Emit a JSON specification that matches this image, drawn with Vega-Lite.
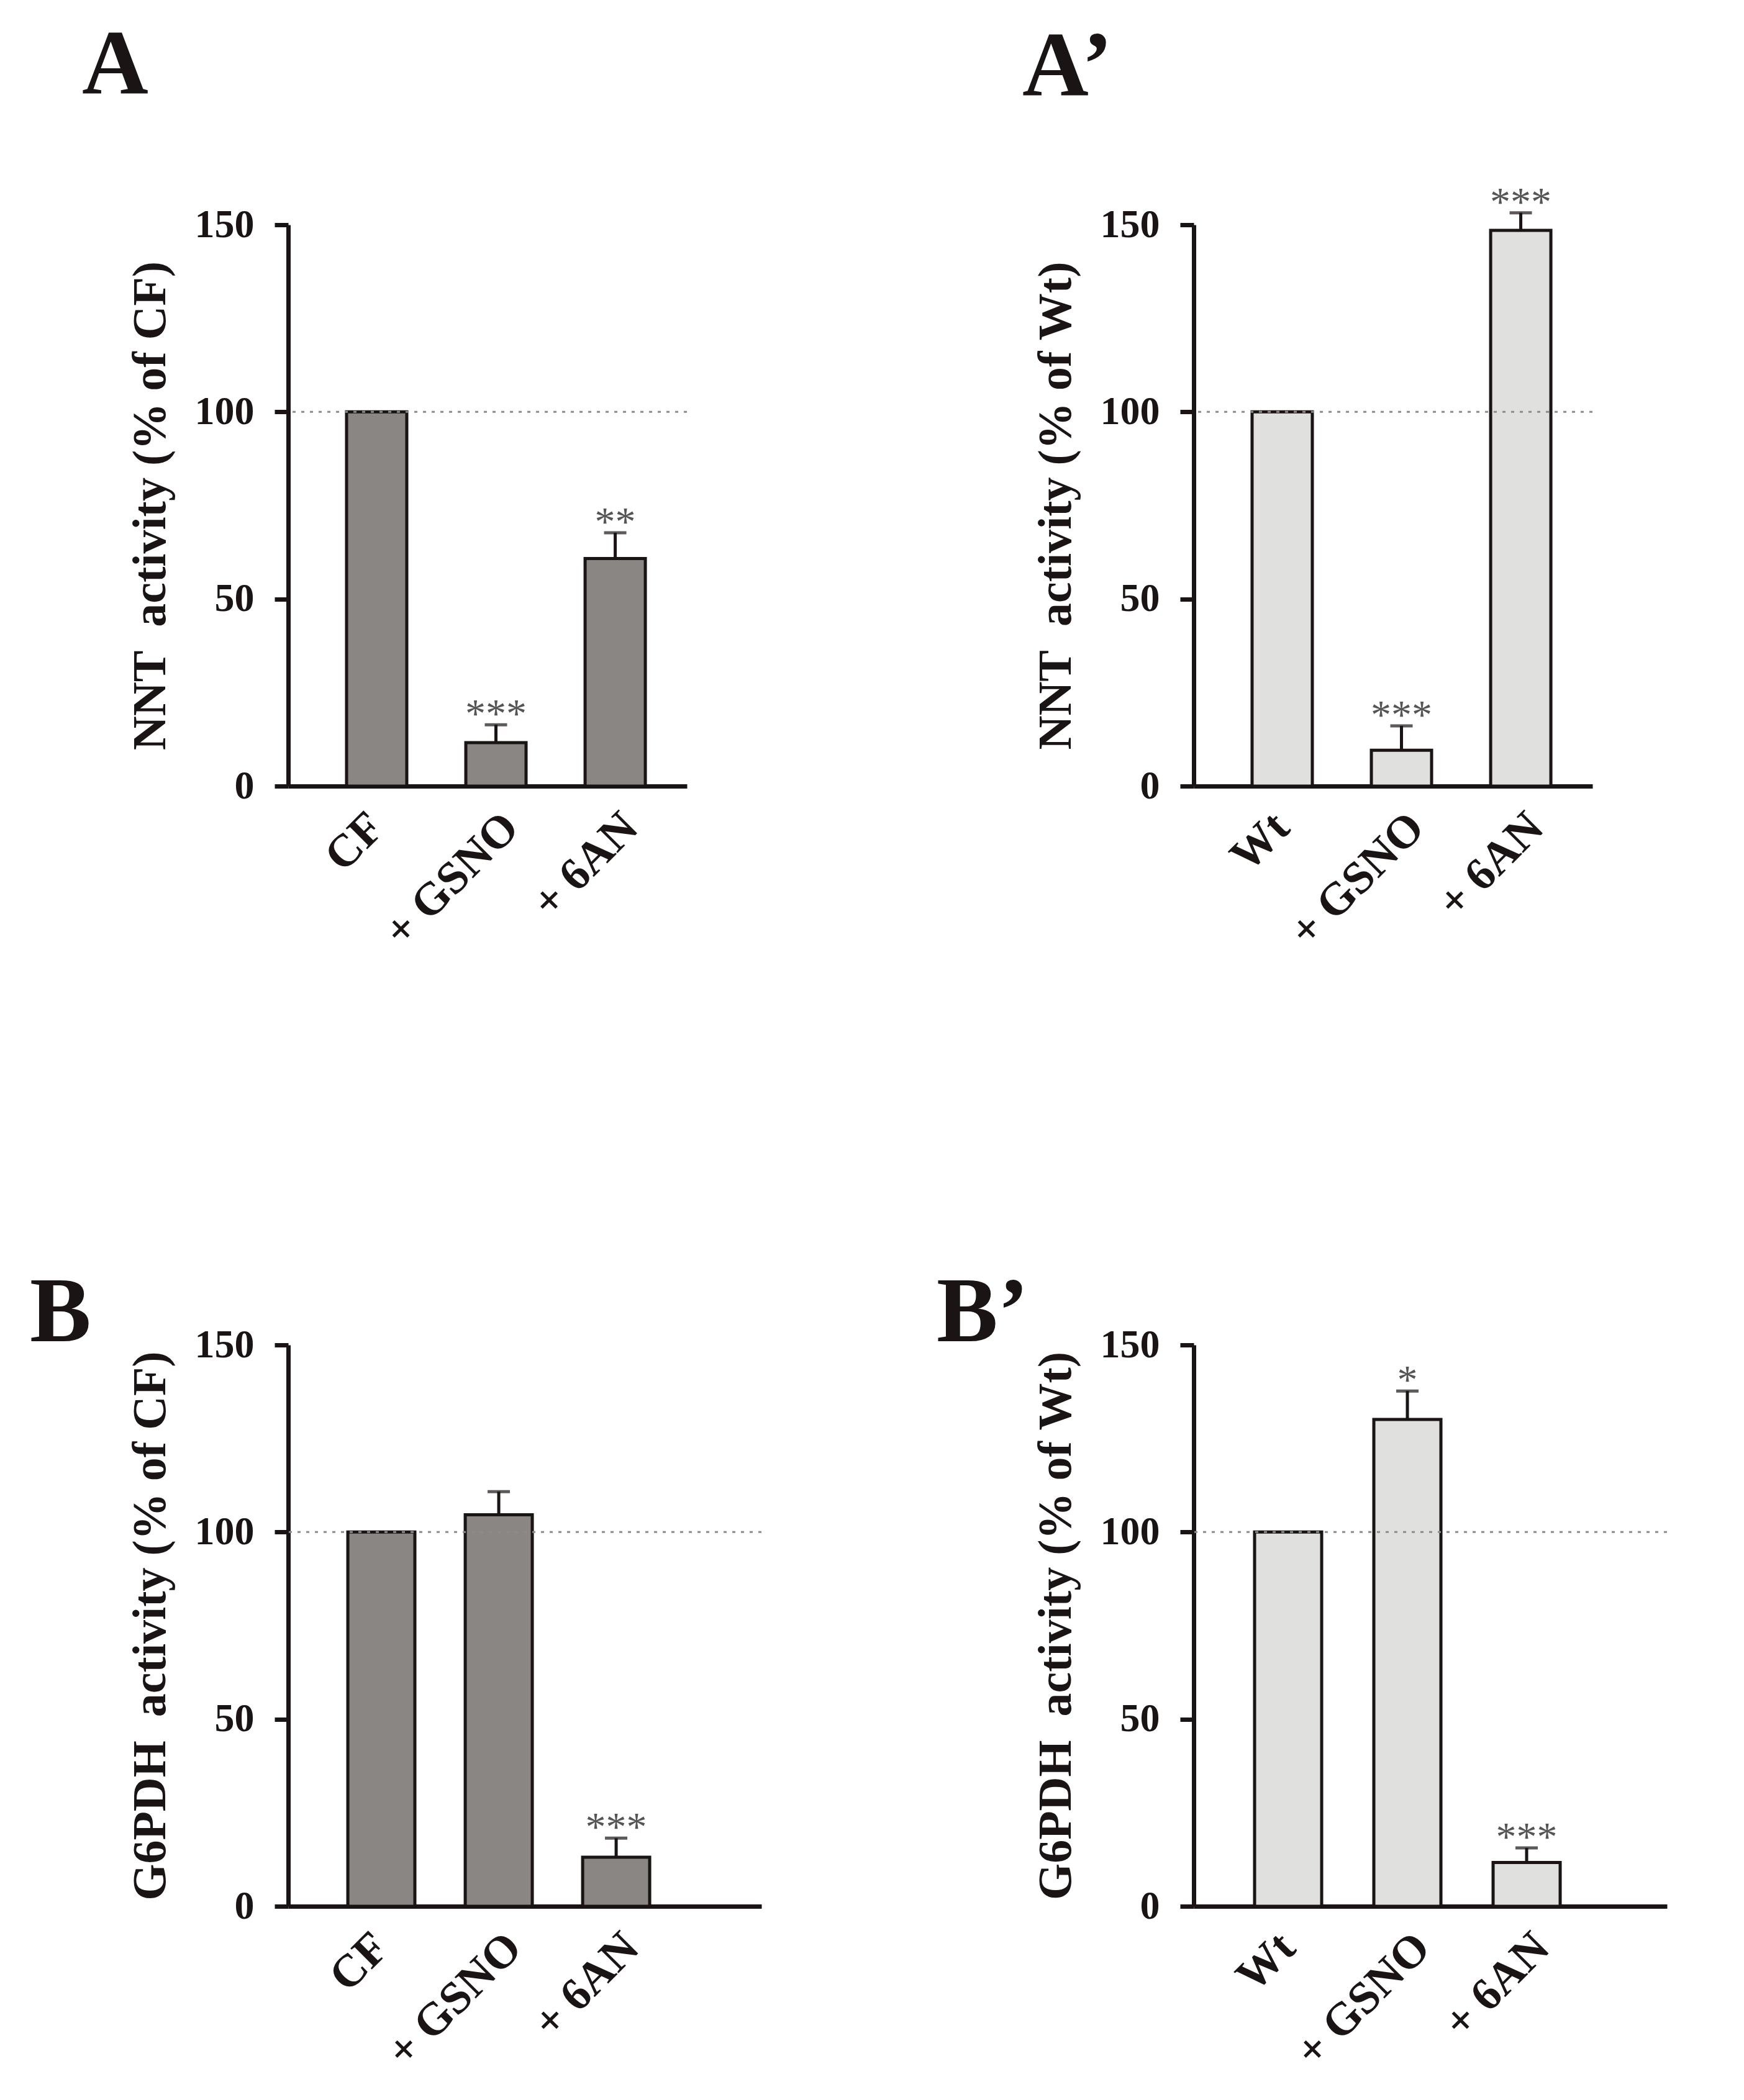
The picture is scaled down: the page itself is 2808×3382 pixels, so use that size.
{
  "$schema": "https://vega.github.io/schema/vega-lite/v6.json",
  "padding": {"left": 48, "top": 32, "right": 0, "bottom": 0},
  "background": "white",
  "config": {"view": {"stroke": null}, "font": "Liberation Serif"},
  "data": {"values": [
    {"panel": "A", "group": "CF", "value": 100, "upper": null, "sig": ""},
    {"panel": "A", "group": "+ GSNO", "value": 11.6, "upper": 16.4, "sig": "***"},
    {"panel": "A", "group": "+ 6AN", "value": 60.8, "upper": 67.7, "sig": "**"},
    {"panel": "A2", "group": "Wt", "value": 100, "upper": null, "sig": ""},
    {"panel": "A2", "group": "+ GSNO", "value": 9.6, "upper": 16.1, "sig": "***"},
    {"panel": "A2", "group": "+ 6AN", "value": 148.5, "upper": 153.2, "sig": "***"},
    {"panel": "B", "group": "CF", "value": 100, "upper": null, "sig": ""},
    {"panel": "B", "group": "+ GSNO", "value": 104.6, "upper": 110.8, "sig": ""},
    {"panel": "B", "group": "+ 6AN", "value": 13.1, "upper": 18.2, "sig": "***"},
    {"panel": "B2", "group": "Wt", "value": 100, "upper": null, "sig": ""},
    {"panel": "B2", "group": "+ GSNO", "value": 130.1, "upper": 137.7, "sig": "*"},
    {"panel": "B2", "group": "+ 6AN", "value": 11.7, "upper": 15.6, "sig": "***"}
  ]},
  "columns": 2,
  "bounds": "flush",
  "align": "all",
  "spacing": {"row": 900, "column": 696},
  "concat": [
    {
      "width": 642, "height": 904,
      "title": {"text": "A", "anchor": "start", "frame": "group", "font": "Liberation Serif", "fontSize": 148, "fontWeight": "bold", "color": "#1a1414", "dx": -332, "baseline": "alphabetic", "offset": 32},
      "transform": [{"filter": "datum.panel == 'A'"}],
      "layer": [
        {"mark": {"type": "bar", "fill": "#898683", "stroke": "#1a1414", "strokeWidth": 5},
         "encoding": {
           "x": {"field": "group", "type": "nominal", "sort": null, "scale": {"paddingInner": 0.495, "paddingOuter": 0.419, "align": 0.584},
                 "axis": {"title": null, "ticks": false, "domainColor": "#1a1414", "domainWidth": 7, "labelAngle": -45, "labelAlign": "right", "labelBaseline": "middle", "labelFont": "Liberation Serif", "labelFontSize": 74, "labelFontWeight": "bold", "labelColor": "#1a1414", "labelPadding": 55, "labelLimit": 1000, "labelOffset": {"condition": {"test": "datum.value == 'CF' || datum.value == 'Wt'", "value": 0}, "value": 25}}},
           "y": {"field": "value", "type": "quantitative", "scale": {"domain": [0, 150], "nice": false},
                 "axis": {"title": "NNT\u00a0\u00a0activity (% of CF)", "values": [0, 50, 100, 150], "grid": false, "domainColor": "#1a1414", "domainWidth": 7, "tickColor": "#1a1414", "tickWidth": 7, "tickSize": 22, "labelFont": "Liberation Serif", "labelFontWeight": "bold", "labelFontSize": 64, "labelColor": "#1a1414", "labelPadding": 33, "titleFont": "Liberation Serif", "titleFontWeight": "bold", "titleFontSize": 76, "titleColor": "#1a1414", "titlePadding": 32, "titleLimit": 3000}}
         }},
        {"transform": [{"filter": "isValid(datum.upper)"}],
         "mark": {"type": "rule", "color": "#1a1414", "strokeWidth": 5},
         "encoding": {
           "x": {"field": "group", "type": "nominal", "sort": null},
           "y": {"field": "value", "type": "quantitative"},
           "y2": {"field": "upper"}
         }},
        {"transform": [{"filter": "isValid(datum.upper)"}],
         "mark": {"type": "tick", "color": "#1a1414", "thickness": 5, "size": 36},
         "encoding": {
           "x": {"field": "group", "type": "nominal", "sort": null},
           "y": {"field": "upper", "type": "quantitative"}
         }},
        {"transform": [{"filter": "datum.sig != ''"}],
         "mark": {"type": "text", "font": "Liberation Serif", "fontSize": 66, "color": "#555555", "baseline": "alphabetic", "dy": 4},
         "encoding": {
           "x": {"field": "group", "type": "nominal", "sort": null},
           "y": {"field": "upper", "type": "quantitative"},
           "text": {"field": "sig"}
         }},
        {"data": {"values": [{"ref": 100}]},
         "mark": {"type": "rule", "color": "#8c8c8c", "strokeWidth": 3, "strokeDash": [5, 9]},
         "encoding": {"y": {"field": "ref", "type": "quantitative"}}}
      ]
    },
    {
      "width": 642, "height": 904,
      "title": {"text": "A’", "anchor": "start", "frame": "group", "font": "Liberation Serif", "fontSize": 148, "fontWeight": "bold", "color": "#1a1414", "dx": -276, "baseline": "alphabetic", "offset": -7},
      "transform": [{"filter": "datum.panel == 'A2'"}],
      "layer": [
        {"mark": {"type": "bar", "fill": "#e0e0de", "stroke": "#1a1414", "strokeWidth": 5},
         "encoding": {
           "x": {"field": "group", "type": "nominal", "sort": null, "scale": {"paddingInner": 0.495, "paddingOuter": 0.419, "align": 0.584},
                 "axis": {"title": null, "ticks": false, "domainColor": "#1a1414", "domainWidth": 7, "labelAngle": -45, "labelAlign": "right", "labelBaseline": "middle", "labelFont": "Liberation Serif", "labelFontSize": 74, "labelFontWeight": "bold", "labelColor": "#1a1414", "labelPadding": 55, "labelLimit": 1000, "labelOffset": {"condition": {"test": "datum.value == 'CF' || datum.value == 'Wt'", "value": 0}, "value": 25}}},
           "y": {"field": "value", "type": "quantitative", "scale": {"domain": [0, 150], "nice": false},
                 "axis": {"title": "NNT\u00a0\u00a0activity (% of Wt)", "values": [0, 50, 100, 150], "grid": false, "domainColor": "#1a1414", "domainWidth": 7, "tickColor": "#1a1414", "tickWidth": 7, "tickSize": 22, "labelFont": "Liberation Serif", "labelFontWeight": "bold", "labelFontSize": 64, "labelColor": "#1a1414", "labelPadding": 33, "titleFont": "Liberation Serif", "titleFontWeight": "bold", "titleFontSize": 76, "titleColor": "#1a1414", "titlePadding": 32, "titleLimit": 3000}}
         }},
        {"transform": [{"filter": "isValid(datum.upper)"}],
         "mark": {"type": "rule", "color": "#1a1414", "strokeWidth": 5},
         "encoding": {
           "x": {"field": "group", "type": "nominal", "sort": null},
           "y": {"field": "value", "type": "quantitative"},
           "y2": {"field": "upper"}
         }},
        {"transform": [{"filter": "isValid(datum.upper)"}],
         "mark": {"type": "tick", "color": "#1a1414", "thickness": 5, "size": 36},
         "encoding": {
           "x": {"field": "group", "type": "nominal", "sort": null},
           "y": {"field": "upper", "type": "quantitative"}
         }},
        {"transform": [{"filter": "datum.sig != ''"}],
         "mark": {"type": "text", "font": "Liberation Serif", "fontSize": 66, "color": "#555555", "baseline": "alphabetic", "dy": 4},
         "encoding": {
           "x": {"field": "group", "type": "nominal", "sort": null},
           "y": {"field": "upper", "type": "quantitative"},
           "text": {"field": "sig"}
         }},
        {"data": {"values": [{"ref": 100}]},
         "mark": {"type": "rule", "color": "#8c8c8c", "strokeWidth": 3, "strokeDash": [5, 9]},
         "encoding": {"y": {"field": "ref", "type": "quantitative"}}}
      ]
    },
    {
      "width": 762, "height": 904,
      "title": {"text": "B", "anchor": "start", "frame": "group", "font": "Liberation Serif", "fontSize": 148, "fontWeight": "bold", "color": "#1a1414", "dx": -416, "baseline": "alphabetic", "offset": -174},
      "transform": [{"filter": "datum.panel == 'B'"}],
      "layer": [
        {"mark": {"type": "bar", "fill": "#898683", "stroke": "#1a1414", "strokeWidth": 5},
         "encoding": {
           "x": {"field": "group", "type": "nominal", "sort": null, "scale": {"paddingInner": 0.429, "paddingOuter": 0.730, "align": 0.348},
                 "axis": {"title": null, "ticks": false, "domainColor": "#1a1414", "domainWidth": 7, "labelAngle": -45, "labelAlign": "right", "labelBaseline": "middle", "labelFont": "Liberation Serif", "labelFontSize": 74, "labelFontWeight": "bold", "labelColor": "#1a1414", "labelPadding": 55, "labelLimit": 1000, "labelOffset": {"condition": {"test": "datum.value == 'CF' || datum.value == 'Wt'", "value": 0}, "value": 25}}},
           "y": {"field": "value", "type": "quantitative", "scale": {"domain": [0, 150], "nice": false},
                 "axis": {"title": "G6PDH\u00a0\u00a0activity (% of CF)", "values": [0, 50, 100, 150], "grid": false, "domainColor": "#1a1414", "domainWidth": 7, "tickColor": "#1a1414", "tickWidth": 7, "tickSize": 22, "labelFont": "Liberation Serif", "labelFontWeight": "bold", "labelFontSize": 64, "labelColor": "#1a1414", "labelPadding": 33, "titleFont": "Liberation Serif", "titleFontWeight": "bold", "titleFontSize": 76, "titleColor": "#1a1414", "titlePadding": 32, "titleLimit": 3000}}
         }},
        {"transform": [{"filter": "isValid(datum.upper)"}],
         "mark": {"type": "rule", "color": "#1a1414", "strokeWidth": 5},
         "encoding": {
           "x": {"field": "group", "type": "nominal", "sort": null},
           "y": {"field": "value", "type": "quantitative"},
           "y2": {"field": "upper"}
         }},
        {"transform": [{"filter": "isValid(datum.upper)"}],
         "mark": {"type": "tick", "color": "#1a1414", "thickness": 5, "size": 36},
         "encoding": {
           "x": {"field": "group", "type": "nominal", "sort": null},
           "y": {"field": "upper", "type": "quantitative"}
         }},
        {"transform": [{"filter": "datum.sig != ''"}],
         "mark": {"type": "text", "font": "Liberation Serif", "fontSize": 66, "color": "#555555", "baseline": "alphabetic", "dy": 4},
         "encoding": {
           "x": {"field": "group", "type": "nominal", "sort": null},
           "y": {"field": "upper", "type": "quantitative"},
           "text": {"field": "sig"}
         }},
        {"data": {"values": [{"ref": 100}]},
         "mark": {"type": "rule", "color": "#8c8c8c", "strokeWidth": 3, "strokeDash": [5, 9]},
         "encoding": {"y": {"field": "ref", "type": "quantitative"}}}
      ]
    },
    {
      "width": 762, "height": 904,
      "title": {"text": "B’", "anchor": "start", "frame": "group", "font": "Liberation Serif", "fontSize": 148, "fontWeight": "bold", "color": "#1a1414", "dx": -414, "baseline": "alphabetic", "offset": -174},
      "transform": [{"filter": "datum.panel == 'B2'"}],
      "layer": [
        {"mark": {"type": "bar", "fill": "#e0e0de", "stroke": "#1a1414", "strokeWidth": 5},
         "encoding": {
           "x": {"field": "group", "type": "nominal", "sort": null, "scale": {"paddingInner": 0.4375, "paddingOuter": 0.703, "align": 0.363},
                 "axis": {"title": null, "ticks": false, "domainColor": "#1a1414", "domainWidth": 7, "labelAngle": -45, "labelAlign": "right", "labelBaseline": "middle", "labelFont": "Liberation Serif", "labelFontSize": 74, "labelFontWeight": "bold", "labelColor": "#1a1414", "labelPadding": 55, "labelLimit": 1000, "labelOffset": {"condition": {"test": "datum.value == 'CF' || datum.value == 'Wt'", "value": 0}, "value": 25}}},
           "y": {"field": "value", "type": "quantitative", "scale": {"domain": [0, 150], "nice": false},
                 "axis": {"title": "G6PDH\u00a0\u00a0activity (% of Wt)", "values": [0, 50, 100, 150], "grid": false, "domainColor": "#1a1414", "domainWidth": 7, "tickColor": "#1a1414", "tickWidth": 7, "tickSize": 22, "labelFont": "Liberation Serif", "labelFontWeight": "bold", "labelFontSize": 64, "labelColor": "#1a1414", "labelPadding": 33, "titleFont": "Liberation Serif", "titleFontWeight": "bold", "titleFontSize": 76, "titleColor": "#1a1414", "titlePadding": 32, "titleLimit": 3000}}
         }},
        {"transform": [{"filter": "isValid(datum.upper)"}],
         "mark": {"type": "rule", "color": "#1a1414", "strokeWidth": 5},
         "encoding": {
           "x": {"field": "group", "type": "nominal", "sort": null},
           "y": {"field": "value", "type": "quantitative"},
           "y2": {"field": "upper"}
         }},
        {"transform": [{"filter": "isValid(datum.upper)"}],
         "mark": {"type": "tick", "color": "#1a1414", "thickness": 5, "size": 36},
         "encoding": {
           "x": {"field": "group", "type": "nominal", "sort": null},
           "y": {"field": "upper", "type": "quantitative"}
         }},
        {"transform": [{"filter": "datum.sig != ''"}],
         "mark": {"type": "text", "font": "Liberation Serif", "fontSize": 66, "color": "#555555", "baseline": "alphabetic", "dy": 4},
         "encoding": {
           "x": {"field": "group", "type": "nominal", "sort": null},
           "y": {"field": "upper", "type": "quantitative"},
           "text": {"field": "sig"}
         }},
        {"data": {"values": [{"ref": 100}]},
         "mark": {"type": "rule", "color": "#8c8c8c", "strokeWidth": 3, "strokeDash": [5, 9]},
         "encoding": {"y": {"field": "ref", "type": "quantitative"}}}
      ]
    }
  ]
}
